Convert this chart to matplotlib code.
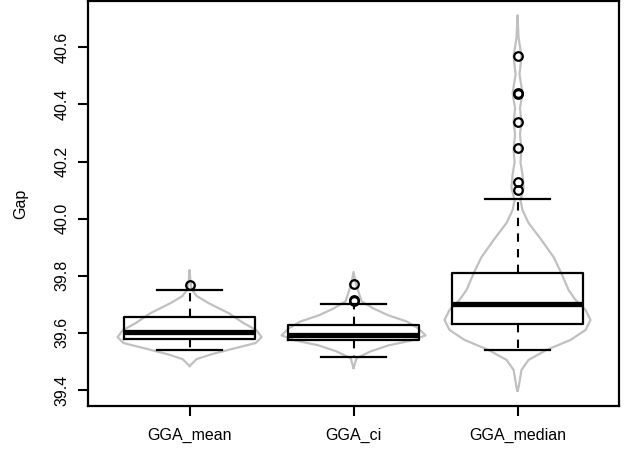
import numpy as np
import matplotlib
matplotlib.use("Agg")
import matplotlib.pyplot as plt

plt.rcParams['font.family'] = ['Liberation Sans', 'DejaVu Sans']

# === DATA ===
groups = ["GGA_mean", "GGA_ci", "GGA_median"]

q1 = [39.578, 39.575, 39.631]
median = [39.603, 39.592, 39.700]
q3 = [39.655, 39.627, 39.809]
whisker_lo = [39.540, 39.515, 39.540]
whisker_hi = [39.750, 39.700, 40.068]
outliers = [
    [39.767],
    [39.771, 39.716, 39.712],
    [40.569, 40.440, 40.436, 40.338, 40.247, 40.128, 40.100],
]

# violin outlines: gap level and half width (in box-position units)
violin_mean_y = [39.484, 39.494, 39.508, 39.525, 39.543, 39.564, 39.585, 39.609,
                 39.634, 39.669, 39.704, 39.729, 39.753, 39.788, 39.820]
violin_mean_w = [0.0, 0.018, 0.043, 0.134, 0.256, 0.402, 0.439, 0.408,
                 0.329, 0.238, 0.116, 0.043, 0.012, 0.004, 0.0]

violin_ci_y = [39.477, 39.511, 39.535, 39.556, 39.573, 39.591, 39.615,
               39.640, 39.661, 39.685, 39.710, 39.731, 39.776, 39.813]
violin_ci_w = [0.0, 0.018, 0.104, 0.213, 0.354, 0.439, 0.396,
               0.323, 0.213, 0.122, 0.049, 0.037, 0.012, 0.0]

violin_med_y = [39.397, 39.400, 39.418, 39.470, 39.505, 39.540, 39.575, 39.610,
                39.645, 39.680, 39.715, 39.750, 39.808, 39.865, 39.925, 39.985,
                40.030, 40.065, 40.108, 40.155, 40.197, 40.243, 40.296,
                40.338, 40.386, 40.439, 40.505, 40.569, 40.635, 40.712]
violin_med_w = [0.0, 0.003, 0.009, 0.024, 0.067, 0.177, 0.323, 0.415,
                0.445, 0.415, 0.354, 0.311, 0.268, 0.220, 0.146, 0.067,
                0.030, 0.018, 0.037, 0.030, 0.018, 0.024, 0.015,
                0.024, 0.015, 0.030, 0.012, 0.024, 0.006, 0.0]

violins = [(violin_mean_y, violin_mean_w),
           (violin_ci_y, violin_ci_w),
           (violin_med_y, violin_med_w)]

# === PLOT ===
fig = plt.figure(figsize=(6.28, 4.5), dpi=100)
ax = fig.add_axes([0.140, 0.098, 0.846, 0.899])

positions = np.arange(1, len(groups) + 1)

for pos, (vy, vw) in zip(positions, violins):
    vy = np.array(vy)
    vw = np.array(vw)
    xs = np.concatenate([pos - vw, (pos + vw)[::-1]])
    ys = np.concatenate([vy, vy[::-1]])
    ax.plot(np.append(xs, xs[0]), np.append(ys, ys[0]), color="#c0c0c0",
            lw=1.6, zorder=1, solid_joinstyle="round")

stats = []
for i, name in enumerate(groups):
    stats.append(dict(label=name, med=median[i], q1=q1[i], q3=q3[i],
                      whislo=whisker_lo[i], whishi=whisker_hi[i],
                      fliers=outliers[i]))

ax.bxp(stats, positions=positions, widths=0.8, capwidths=0.4,
       patch_artist=False, manage_ticks=False, zorder=2,
       boxprops=dict(color="black", lw=1.6),
       medianprops=dict(color="black", lw=3.8, solid_capstyle="butt"),
       whiskerprops=dict(color="black", lw=1.5, linestyle=(0, (4, 3.5))),
       capprops=dict(color="black", lw=1.6),
       flierprops=dict(marker="o", markerfacecolor="none",
                       markeredgecolor="black", markersize=6.2,
                       markeredgewidth=1.6))

ax.set_xlim(0.38, 3.62)
ax.set_ylim(39.344, 40.761)

ax.set_xticks(positions)
ax.set_xticklabels(groups, fontsize=11.5)
yticks = [39.4, 39.6, 39.8, 40.0, 40.2, 40.4, 40.6]
ax.set_yticks(yticks)
ax.set_yticklabels([f"{t:.1f}" for t in yticks], fontsize=11.5,
                   rotation=90, va="center")

ax.tick_params(axis="both", direction="out", length=7.5, width=1.5,
               color="black")
ax.tick_params(axis="x", pad=8)
ax.tick_params(axis="y", pad=6)
for sp in ax.spines.values():
    sp.set_linewidth(1.6)

ax.set_ylabel("Gap", fontsize=11.5, labelpad=19)

fig.savefig("out.png", dpi=100)
